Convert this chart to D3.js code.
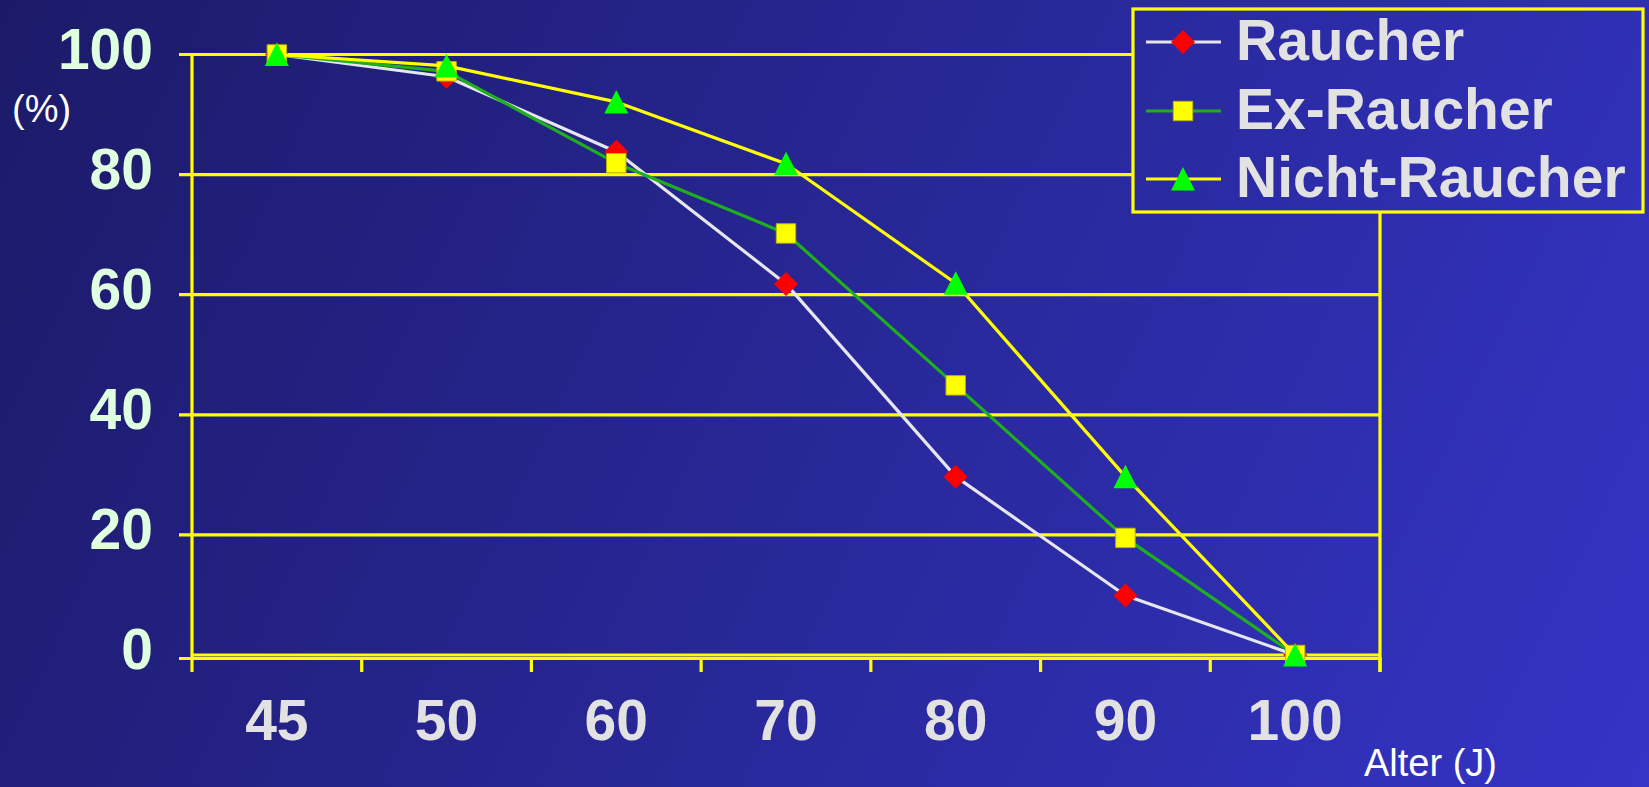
<!DOCTYPE html>
<html>
<head>
<meta charset="utf-8">
<script src="https://cdn.jsdelivr.net/npm/d3@7/dist/d3.min.js"></script>
<style>
html,body{margin:0;padding:0;overflow:hidden;background:#22228a;}
svg{display:block;}
</style>
</head>
<body>
<svg id="chart" width="1649" height="787"></svg>
<script>
const categories = ["45","50","60","70","80","90","100"];
const raucher      = [100, 96.3, 83.8, 61.8, 29.7, 9.9, 0];
const exRaucher    = [100, 97.2, 81.9, 70.2, 44.9, 19.5, 0];
const nichtRaucher = [100, 98.1, 92.1, 81.8, 61.9, 29.7, 0];
const yTicks = [0, 20, 40, 60, 80, 100];
const seriesNames = ["Raucher", "Ex-Raucher", "Nicht-Raucher"];

const W = 1649, H = 787;
const svg = d3.select("#chart");
const font = "'Liberation Sans', Arial, Helvetica, sans-serif";

const defs = svg.append("defs");
const grad = defs.append("linearGradient").attr("id","bg")
  .attr("gradientUnits","userSpaceOnUse")
  .attr("x1",0).attr("y1",0).attr("x2",W).attr("y2",H);
grad.append("stop").attr("offset","0").attr("stop-color","#1c1a68");
grad.append("stop").attr("offset","1").attr("stop-color","#3434c6");
svg.append("rect").attr("width",W).attr("height",H).attr("fill","url(#bg)");

const left = 192, right = 1380;
const x = d3.scaleBand().domain(categories).range([left, right]);
const y = d3.scaleLinear().domain([0, 100]).range([655, 54.5]);
const yellow = "#ffff00";

// gridlines
const g = svg.append("g");
g.selectAll("line.grid").data(yTicks).join("line")
  .attr("x1", d => d === 0 ? left : left - 13).attr("x2", right)
  .attr("y1", d => y(d)).attr("y2", d => y(d))
  .attr("stroke", yellow).attr("stroke-width", 3.2);
// x axis line
g.append("line").attr("x1", left - 13).attr("x2", right + 1.5)
  .attr("y1", y(0) + 3.5).attr("y2", y(0) + 3.5)
  .attr("stroke", yellow).attr("stroke-width", 3.2);
// y axis line
g.append("line").attr("x1", left).attr("x2", left)
  .attr("y1", y(100) - 1).attr("y2", y(0) + 17)
  .attr("stroke", yellow).attr("stroke-width", 3.2);
// right border
g.append("line").attr("x1", right).attr("x2", right)
  .attr("y1", y(100)).attr("y2", y(0) + 17)
  .attr("stroke", yellow).attr("stroke-width", 3.2);
// x ticks at band boundaries
const bounds = categories.slice(1).map(c => x(c)).concat([right]);
g.selectAll("line.xt").data(bounds).join("line")
  .attr("x1", d => d).attr("x2", d => d)
  .attr("y1", y(0) + 3).attr("y2", y(0) + 17)
  .attr("stroke", yellow).attr("stroke-width", 3.2);

// y labels
svg.append("g").selectAll("text").data(yTicks).join("text")
  .attr("x", 153).attr("y", d => y(d) + 14)
  .attr("text-anchor", "end")
  .attr("font-family", font).attr("font-weight", "bold").attr("font-size", 57)
  .attr("fill", "#e0ffe0").text(d => d);
// x labels
svg.append("g").selectAll("text").data(categories).join("text")
  .attr("x", d => x(d) + x.bandwidth() / 2).attr("y", 740)
  .attr("text-anchor", "middle")
  .attr("font-family", font).attr("font-weight", "bold").attr("font-size", 57)
  .attr("fill", "#e2e2e2").text(d => d);

svg.append("text").attr("x", 12).attr("y", 122)
  .attr("font-family", font).attr("font-size", 38).attr("fill", "#ffffff").text("(%)");
svg.append("text").attr("x", 1364).attr("y", 776)
  .attr("font-family", font).attr("font-size", 38).attr("fill", "#ffffff").text("Alter (J)");

// marker paths
function markerPath(type, cx, cy) {
  if (type === "diamond") return `M${cx},${cy-12}L${cx+12},${cy}L${cx},${cy+12}L${cx-12},${cy}Z`;
  if (type === "square") return `M${cx-9.7},${cy-9.7}h19.4v19.4h-19.4Z`;
  return `M${cx},${cy-12}L${cx+12},${cy+11.5}L${cx-12},${cy+11.5}Z`;
}

const series = [
  {name: seriesNames[0], values: raucher, line: "#e6e6ee", marker: "diamond", fill: "#ff0000", stroke: "none"},
  {name: seriesNames[1], values: exRaucher, line: "#1eae1e", marker: "square", fill: "#ffff00", stroke: "#b8b800"},
  {name: seriesNames[2], values: nichtRaucher, line: "#ffff00", marker: "triangle", fill: "#00ff00", stroke: "none"}
];

const lineGen = d3.line().x((d, i) => x(categories[i]) + x.bandwidth() / 2).y(d => y(d));
series.forEach(s => {
  const sg = svg.append("g");
  sg.append("path").attr("d", lineGen(s.values)).attr("fill", "none")
    .attr("stroke", s.line).attr("stroke-width", 3.2).attr("stroke-linejoin", "round");
  sg.selectAll("path.m").data(s.values).join("path").attr("class", "m")
    .attr("d", (d, i) => markerPath(s.marker, x(categories[i]) + x.bandwidth() / 2, y(d)))
    .attr("fill", s.fill).attr("stroke", s.stroke).attr("stroke-width", s.stroke === "none" ? 0 : 1);
});

// legend
const lg = svg.append("g");
lg.append("rect").attr("x", 1133).attr("y", 9).attr("width", 510).attr("height", 203)
  .attr("fill", "url(#bg)").attr("stroke", yellow).attr("stroke-width", 3.2);
const rows = [42, 111, 179];
series.forEach((s, i) => {
  const ry = rows[i];
  lg.append("line").attr("x1", 1146).attr("x2", 1221).attr("y1", ry).attr("y2", ry)
    .attr("stroke", s.line).attr("stroke-width", 3.2);
  lg.append("path").attr("d", markerPath(s.marker, 1183, ry))
    .attr("fill", s.fill).attr("stroke", s.stroke).attr("stroke-width", s.stroke === "none" ? 0 : 1);
  lg.append("text").attr("x", 1236).attr("y", ry + 18)
    .attr("font-family", font).attr("font-weight", "bold").attr("font-size", 57)
    .attr("fill", "#e2e2e2").text(s.name);
});
</script>
</body>
</html>
